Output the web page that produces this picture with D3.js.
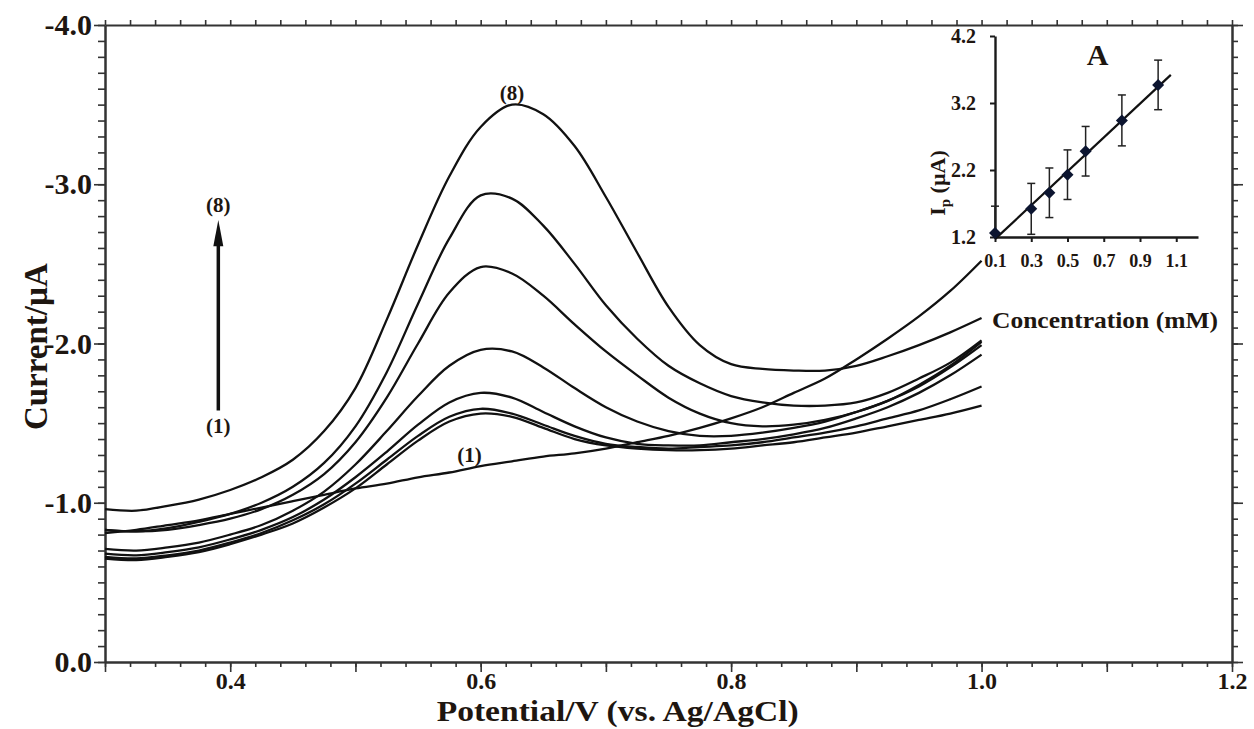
<!DOCTYPE html>
<html>
<head>
<meta charset="utf-8">
<script src="https://cdn.jsdelivr.net/npm/d3@7"></script>
<style>
  body { margin: 0; background: #fff; }
  svg { display: block; }
</style>
</head>
<body>
<div id="chart"></div>
<script>
// DPV curves, potential in V, current in µA (negative = cathodic axis up)
const potential = [0.300, 0.325, 0.350, 0.375, 0.400, 0.425, 0.450, 0.475, 0.500, 0.525,
                   0.550, 0.575, 0.600, 0.625, 0.650, 0.675, 0.700, 0.725, 0.750, 0.775,
                   0.800, 0.825, 0.850, 0.875, 0.900, 0.925, 0.950, 0.975, 1.000];

const curve1 = [-0.81, -0.83, -0.86, -0.89, -0.93, -0.97, -1.01, -1.05, -1.09, -1.12,
                -1.16, -1.19, -1.23, -1.26, -1.29, -1.31, -1.34, -1.38, -1.42, -1.47,
                -1.53, -1.60, -1.69, -1.78, -1.90, -2.03, -2.17, -2.33, -2.52];
const curve2 = [-0.65, -0.64, -0.66, -0.69, -0.74, -0.80, -0.87, -0.97, -1.09, -1.24,
                -1.39, -1.51, -1.56, -1.54, -1.47, -1.40, -1.36, -1.34, -1.33, -1.33,
                -1.34, -1.36, -1.38, -1.41, -1.44, -1.48, -1.52, -1.56, -1.61];
const curve3 = [-0.66, -0.65, -0.67, -0.70, -0.75, -0.81, -0.89, -0.99, -1.12, -1.27,
                -1.42, -1.54, -1.59, -1.56, -1.49, -1.42, -1.37, -1.35, -1.34, -1.35,
                -1.36, -1.38, -1.41, -1.44, -1.48, -1.53, -1.58, -1.65, -1.73];
const curve4 = [-0.68, -0.67, -0.69, -0.72, -0.77, -0.83, -0.91, -1.02, -1.16, -1.32,
                -1.49, -1.63, -1.69, -1.66, -1.57, -1.48, -1.41, -1.37, -1.36, -1.36,
                -1.38, -1.40, -1.43, -1.47, -1.53, -1.60, -1.69, -1.80, -1.93];
const curve5 = [-0.71, -0.70, -0.72, -0.75, -0.80, -0.86, -0.95, -1.07, -1.24, -1.45,
                -1.67, -1.86, -1.96, -1.95, -1.85, -1.72, -1.60, -1.51, -1.45, -1.42,
                -1.42, -1.44, -1.47, -1.51, -1.57, -1.64, -1.73, -1.85, -1.99];
const curve6 = [-0.83, -0.82, -0.83, -0.86, -0.90, -0.96, -1.05, -1.18, -1.38, -1.66,
                -2.00, -2.32, -2.48, -2.44, -2.30, -2.12, -1.95, -1.80, -1.66, -1.56,
                -1.50, -1.48, -1.49, -1.52, -1.57, -1.64, -1.74, -1.86, -2.01];
const curve7 = [-0.83, -0.82, -0.84, -0.88, -0.93, -1.00, -1.10, -1.25, -1.48, -1.82,
                -2.25, -2.66, -2.93, -2.91, -2.74, -2.50, -2.24, -2.03, -1.86, -1.75,
                -1.67, -1.63, -1.61, -1.61, -1.63, -1.69, -1.78, -1.88, -2.02];
const curve8 = [-0.96, -0.95, -0.98, -1.02, -1.08, -1.16, -1.27, -1.45, -1.72, -2.15,
                -2.62, -3.05, -3.36, -3.50, -3.44, -3.24, -2.92, -2.57, -2.23, -1.99,
                -1.87, -1.84, -1.83, -1.83, -1.86, -1.92, -1.99, -2.07, -2.16];
const curves = [curve1, curve2, curve3, curve4, curve5, curve6, curve7, curve8];

// inset: peak current vs concentration
const conc = [0.1, 0.3, 0.4, 0.5, 0.6, 0.8, 1.0];
const peakCurrent = [1.26, 1.62, 1.86, 2.13, 2.48, 2.94, 3.47];
const peakError = [0.40, 0.38, 0.37, 0.37, 0.37, 0.38, 0.37];

const xTickLabels = [0.4, 0.6, 0.8, 1.0, 1.2];
const yTickLabels = [0, -1, -2, -3, -4];
const insetXTicks = [0.1, 0.3, 0.5, 0.7, 0.9, 1.1];
const insetYTicks = [1.2, 2.2, 3.2, 4.2];

const width = 1254, height = 729;
const serif = "'Liberation Serif', 'Times New Roman', serif";
const axisColor = "#333";
const textColor = "#1e1610";

const x = d3.scaleLinear().domain([0.3, 1.2]).range([105, 1232]);
const y = d3.scaleLinear().domain([0, -4]).range([662, 25]);

const svg = d3.select("#chart").append("svg")
    .attr("width", width)
    .attr("height", height)
    .attr("viewBox", [0, 0, width, height]);

svg.append("rect").attr("width", width).attr("height", height).attr("fill", "#fff");

function styleAxis(g, fontSize) {
    g.select(".domain").attr("stroke", axisColor).attr("stroke-width", 2);
    g.selectAll(".tick line").attr("stroke", axisColor).attr("stroke-width", 1.6);
    g.attr("font-family", serif).attr("font-size", fontSize);
    g.selectAll("text").attr("fill", textColor).attr("font-weight", "bold");
}

const fmt1 = d => d.toFixed(1);
const labelSet = xTickLabels.map(fmt1);

// bottom axis: minor + major
svg.append("g")
    .attr("transform", `translate(0,${y(0)})`)
    .call(d3.axisBottom(x).ticks(45).tickSize(5).tickFormat("").tickSizeOuter(0))
    .call(g => styleAxis(g, 24));
svg.append("g")
    .attr("transform", `translate(0,${y(0)})`)
    .call(d3.axisBottom(x).ticks(9).tickSize(10).tickPadding(0)
        .tickFormat(d => labelSet.includes(fmt1(d)) ? fmt1(d) : "").tickSizeOuter(0))
    .call(g => styleAxis(g, 24));

// top axis
svg.append("g")
    .attr("transform", `translate(0,${y(-4)})`)
    .call(d3.axisTop(x).ticks(45).tickSize(5).tickFormat("").tickSizeOuter(0))
    .call(g => styleAxis(g, 24));

// left axis
svg.append("g")
    .attr("transform", `translate(${x(0.3)},0)`)
    .call(d3.axisLeft(y).ticks(40).tickSize(7).tickFormat("").tickSizeOuter(0))
    .call(g => styleAxis(g, 30));
svg.append("g")
    .attr("transform", `translate(${x(0.3)},0)`)
    .call(d3.axisLeft(y).tickValues(yTickLabels).tickSize(11).tickPadding(2)
        .tickFormat(fmt1).tickSizeOuter(0))
    .call(g => styleAxis(g, 30));

// right axis
svg.append("g")
    .attr("transform", `translate(${x(1.2)},0)`)
    .call(d3.axisRight(y).ticks(40).tickSize(6).tickFormat("").tickSizeOuter(0))
    .call(g => styleAxis(g, 30));
svg.append("g")
    .attr("transform", `translate(${x(1.2)},0)`)
    .call(d3.axisRight(y).tickValues(yTickLabels).tickSize(11).tickFormat("").tickSizeOuter(0))
    .call(g => styleAxis(g, 30));

// axis titles
svg.append("text")
    .attr("x", x(0.7094))
    .attr("y", 721)
    .attr("text-anchor", "middle")
    .attr("font-family", serif)
    .attr("font-weight", "bold")
    .attr("font-size", 30)
    .attr("textLength", 362)
    .attr("lengthAdjust", "spacingAndGlyphs")
    .attr("fill", textColor)
    .text("Potential/V (vs. Ag/AgCl)");

svg.append("text")
    .attr("transform", `translate(47,${y(-1.98)}) rotate(-90)`)
    .attr("text-anchor", "middle")
    .attr("font-family", serif)
    .attr("font-weight", "bold")
    .attr("font-size", 33)
    .attr("fill", textColor)
    .text("Current/µA");

// curves
const line = d3.line()
    .x((d, i) => x(potential[i]))
    .y(d => y(d))
    .curve(d3.curveCatmullRom.alpha(0.5));

svg.append("g")
    .selectAll("path")
    .data(curves)
    .join("path")
    .attr("d", line)
    .attr("fill", "none")
    .attr("stroke", "#111")
    .attr("stroke-width", 2.3);

// curve labels
const labelText = (xv, yv, t, size) => svg.append("text")
    .attr("x", x(xv))
    .attr("y", y(yv))
    .attr("text-anchor", "middle")
    .attr("font-family", serif)
    .attr("font-weight", "bold")
    .attr("font-size", size)
    .attr("fill", textColor)
    .text(t);

labelText(0.625, -3.53, "(8)", 21);
labelText(0.591, -1.256, "(1)", 21);
labelText(0.3905, -2.826, "(8)", 21);
labelText(0.3905, -1.438, "(1)", 21);

// arrow
svg.append("line")
    .attr("x1", x(0.3905)).attr("x2", x(0.3905))
    .attr("y1", y(-1.58)).attr("y2", y(-2.68))
    .attr("stroke", "#111")
    .attr("stroke-width", 3.5);
svg.append("path")
    .attr("d", d3.line()([
        [x(0.3905), y(-2.775)],
        [x(0.3905) + 5, y(-2.61)],
        [x(0.3905) - 5, y(-2.61)]
    ]) + "Z")
    .attr("fill", "#111");

// ---------- inset ----------
const xi = d3.scaleLinear().domain([0.1, 1.22]).range([995, 1198]);
const yi = d3.scaleLinear().domain([1.2, 4.2]).range([237, 36]);

function styleInset(g) {
    g.select(".domain").attr("stroke", "#1a1a1a").attr("stroke-width", 2.4);
    g.selectAll(".tick line").attr("stroke", "#1a1a1a").attr("stroke-width", 2);
    g.attr("font-family", serif);
    g.selectAll("text").attr("fill", textColor).attr("font-weight", "bold");
}

svg.append("g")
    .attr("transform", `translate(0,${yi(1.2)})`)
    .call(d3.axisBottom(xi).tickValues(insetXTicks).tickSize(5).tickPadding(12)
        .tickFormat(fmt1).tickSizeOuter(0))
    .call(styleInset)
    .attr("font-size", 18);

svg.append("g")
    .attr("transform", `translate(${xi(0.1)},0)`)
    .call(d3.axisLeft(yi).tickValues(insetYTicks).tickSize(5).tickPadding(14)
        .tickFormat(fmt1).tickSizeOuter(0))
    .call(styleInset)
    .attr("font-size", 20);

// regression line
const mx = d3.mean(conc), my = d3.mean(peakCurrent);
const slope = d3.sum(conc, (c, i) => (c - mx) * (peakCurrent[i] - my)) /
              d3.sum(conc, c => (c - mx) * (c - mx));
const icpt = my - slope * mx;
svg.append("line")
    .attr("x1", xi(0.1)).attr("y1", yi(icpt + slope * 0.1))
    .attr("x2", xi(1.07)).attr("y2", yi(icpt + slope * 1.07))
    .attr("stroke", "#111")
    .attr("stroke-width", 2.2);

// error bars
const eb = svg.append("g").attr("stroke", "#222").attr("stroke-width", 1.5);
conc.forEach((c, i) => {
    const lo = Math.max(peakCurrent[i] - peakError[i], 1.2);
    const hi = peakCurrent[i] + peakError[i];
    eb.append("line").attr("x1", xi(c)).attr("x2", xi(c)).attr("y1", yi(lo)).attr("y2", yi(hi));
    eb.append("line").attr("x1", xi(c) - 4).attr("x2", xi(c) + 4).attr("y1", yi(hi)).attr("y2", yi(hi));
    if (lo > 1.2) {
        eb.append("line").attr("x1", xi(c) - 4).attr("x2", xi(c) + 4).attr("y1", yi(lo)).attr("y2", yi(lo));
    }
});

// diamonds
svg.append("g")
    .selectAll("path")
    .data(conc)
    .join("path")
    .attr("transform", (c, i) => `translate(${xi(c)},${yi(peakCurrent[i])}) rotate(45)`)
    .attr("d", d3.symbol(d3.symbolSquare, 72))
    .attr("fill", "#0c1530");

// inset labels
svg.append("text")
    .attr("x", xi(0.666))
    .attr("y", yi(3.767))
    .attr("text-anchor", "middle")
    .attr("font-family", serif)
    .attr("font-weight", "bold")
    .attr("font-size", 30)
    .attr("fill", textColor)
    .text("A");

const ipLabel = svg.append("text")
    .attr("transform", `translate(945,183) rotate(-90)`)
    .attr("text-anchor", "middle")
    .attr("font-family", serif)
    .attr("font-weight", "bold")
    .attr("font-size", 22)
    .attr("fill", textColor);
ipLabel.append("tspan").text("I");
ipLabel.append("tspan").attr("font-size", 15).attr("dy", 5).text("p");
ipLabel.append("tspan").attr("dy", -5).text(" (µA)");

svg.append("text")
    .attr("x", 992)
    .attr("y", 328)
    .attr("font-family", serif)
    .attr("font-weight", "bold")
    .attr("font-size", 23)
    .attr("textLength", 226)
    .attr("lengthAdjust", "spacingAndGlyphs")
    .attr("fill", textColor)
    .text("Concentration (mM)");
</script>
</body>
</html>
